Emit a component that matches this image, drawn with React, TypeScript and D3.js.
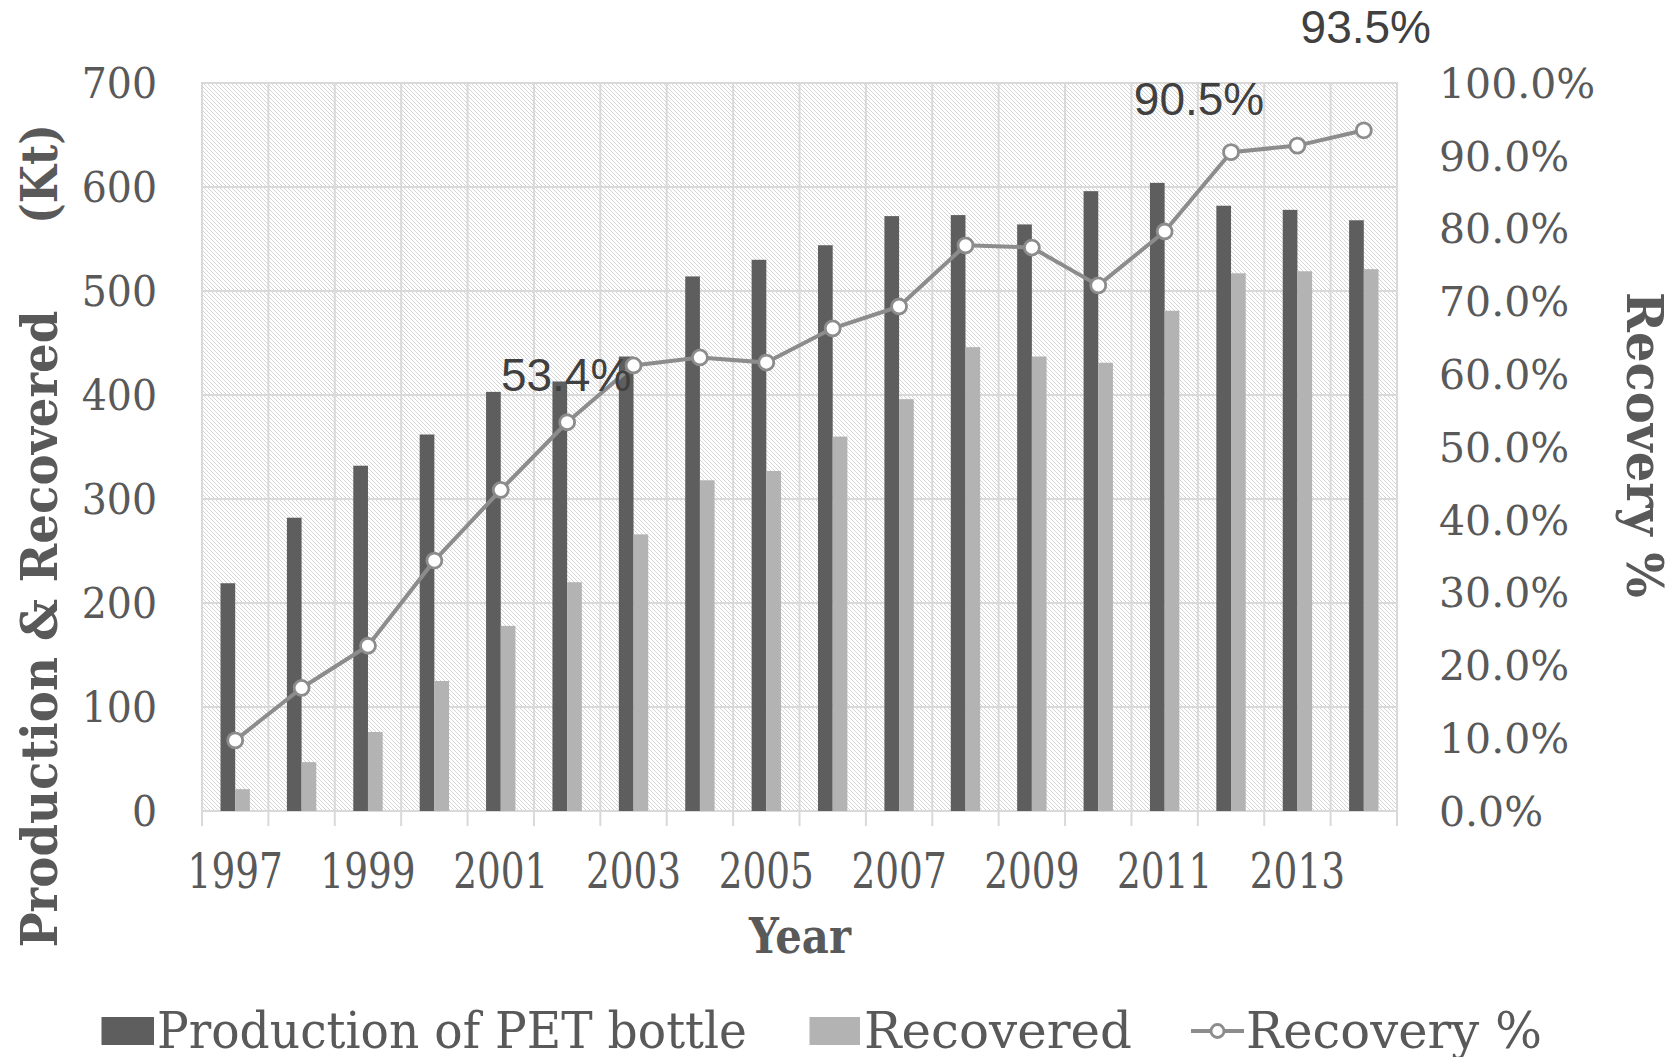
import React from "react";
import * as d3 from "d3";

// values
const years = ["1997", "1998", "1999", "2000", "2001", "2002", "2003", "2004", "2005",
  "2006", "2007", "2008", "2009", "2010", "2011", "2012", "2013", "2014"];
const production = [219, 282, 332, 362, 403, 413, 437, 514, 530, 544, 572, 573, 564, 596, 604, 582, 578, 568];
const recovered = [21, 47, 76, 125, 178, 220, 266, 318, 327, 360, 396, 446, 437, 431, 481, 517, 519, 521];
const recoveryPct = [9.7, 16.9, 22.7, 34.4, 44.1, 53.4, 61.2, 62.3, 61.6, 66.3, 69.3, 77.7, 77.4, 72.2, 79.6, 90.5, 91.4, 93.5];
const leftTicks = [0, 100, 200, 300, 400, 500, 600, 700];
const rightTicks = [0, 10, 20, 30, 40, 50, 60, 70, 80, 90, 100];
const yearLabels = ["1997", "1999", "2001", "2003", "2005", "2007", "2009", "2011", "2013"];
const labelledYears = ["2002", "2012", "2014"];
const seriesNames = ["Production of PET bottle", "Recovered", "Recovery %"];

// label nudges (px) for the three annotated points, like the hand-moved ones in Excel
const labelNudge: Record<string, [number, number]> = {
  "2002": [-1, -31],
  "2012": [-32, -37],
  "2014": [2, -87],
};

const W = 1679, H = 1057;
const plot = { left: 202, right: 1397, top: 83, bottom: 811 };
const txt = "#595959";
const dark = "#5e5e5e";
const light = "#b3b3b3";
const lineCol = "#8c8c8c";
const grid = "#d9d9d9";
const serif = "'DejaVu Serif', serif";
const sans = "'Liberation Sans', Arial, sans-serif";

const App: React.FC = () => {
  const x = d3.scaleBand().domain(years).range([plot.left, plot.right]).padding(0);
  const inner = d3.scaleBand().domain(["prod", "rec"]).range([0, x.bandwidth()])
    .paddingInner(0).paddingOuter(1.26);
  const yL = d3.scaleLinear().domain([0, 700]).range([plot.bottom, plot.top]);
  const yR = d3.scaleLinear().domain([0, 100]).range([plot.bottom, plot.top]);
  const cx = (yr: string) => (x(yr) as number) + x.bandwidth() / 2;

  const line = d3.line<number>()
    .x((_, i) => cx(years[i]))
    .y((d) => yR(d));

  const boundaries = years.map((y) => x(y) as number).concat([plot.right]);

  return (
    <svg width={W} height={H} style={{ position: "absolute", left: 0, top: 0, background: "#fff" }}>
      <defs>
        <pattern id="hatch" width="4" height="4" patternUnits="userSpaceOnUse">
          <rect width="4" height="4" fill="#fff" />
          <path d="M0,0 L4,4 M-1,3 L1,5 M3,-1 L5,1" stroke="#d6d6d6" strokeWidth="1" />
        </pattern>
      </defs>

      {/* plot area */}
      <rect x={plot.left} y={plot.top} width={plot.right - plot.left} height={plot.bottom - plot.top}
        fill="url(#hatch)" stroke={grid} strokeWidth={2} />

      {/* gridlines */}
      {leftTicks.map((t) => (
        <line key={"h" + t} x1={plot.left} x2={plot.right} y1={yL(t)} y2={yL(t)} stroke={grid} strokeWidth={2} />
      ))}
      {boundaries.map((bx, i) => (
        <line key={"v" + i} x1={bx} x2={bx} y1={plot.top} y2={plot.bottom + 15} stroke={grid} strokeWidth={2} />
      ))}

      {/* bars */}
      {years.map((yr, i) => (
        <g key={"b" + yr}>
          <rect x={(x(yr) as number) + (inner("prod") as number)} y={yL(production[i])}
            width={inner.bandwidth()} height={yL(0) - yL(production[i])} fill={dark} />
          <rect x={(x(yr) as number) + (inner("rec") as number)} y={yL(recovered[i])}
            width={inner.bandwidth()} height={yL(0) - yL(recovered[i])} fill={light} />
        </g>
      ))}

      {/* recovery line */}
      <path d={line(recoveryPct) || ""} fill="none" stroke={lineCol} strokeWidth={4} strokeLinejoin="round" />
      {recoveryPct.map((v, i) => (
        <circle key={"m" + i} cx={cx(years[i])} cy={yR(v)} r={7.5} fill="#fff" stroke={lineCol} strokeWidth={2.8} />
      ))}

      {/* data labels */}
      {labelledYears.map((yr) => {
        const i = years.indexOf(yr);
        const [dx, dy] = labelNudge[yr];
        return (
          <text key={"l" + yr} x={cx(yr) + dx} y={yR(recoveryPct[i]) + dy} textAnchor="middle"
            fontFamily={sans} fontSize={46} fill="#404040">
            {recoveryPct[i].toFixed(1) + "%"}
          </text>
        );
      })}

      {/* left axis ticks */}
      {leftTicks.map((t) => (
        <text key={"lt" + t} transform={`translate(157,${yL(t)}) scale(0.94,1)`} dy="0.36em"
          textAnchor="end" fontFamily={serif} fontSize={42} fill={txt}>
          {t}
        </text>
      ))}

      {/* right axis ticks */}
      {rightTicks.map((t) => (
        <text key={"rt" + t} x={1439} y={yR(t)} dy="0.36em"
          fontFamily={serif} fontSize={41} fill={txt}>
          {t.toFixed(1) + "%"}
        </text>
      ))}

      {/* x axis labels */}
      {yearLabels.map((yr) => (
        <text key={"xt" + yr} transform={`translate(${cx(yr)},888) scale(0.78,1)`}
          textAnchor="middle" fontFamily={serif} fontSize={48} fill={txt}>
          {yr}
        </text>
      ))}

      {/* axis titles */}
      <text x={800} y={953} textAnchor="middle" fontFamily={serif} fontWeight="bold" fontSize={48}
        fill={txt} textLength={102} lengthAdjust="spacingAndGlyphs">Year</text>
      <text transform="translate(56.5,629) rotate(-90)" textAnchor="middle" fontFamily={serif}
        fontWeight="bold" fontSize={50} fill={txt} textLength={637} lengthAdjust="spacingAndGlyphs">
        Production &amp; Recovered
      </text>
      <text transform="translate(56.5,174) rotate(-90)" textAnchor="middle" fontFamily={serif}
        fontWeight="bold" fontSize={50} fill={txt} textLength={100} lengthAdjust="spacingAndGlyphs">
        (Kt)
      </text>
      <text transform="translate(1626.5,445) rotate(90)" textAnchor="middle" fontFamily={serif}
        fontWeight="bold" fontSize={50} fill={txt} textLength={306} lengthAdjust="spacingAndGlyphs">
        Recovery %
      </text>

      {/* legend */}
      <rect x={101.5} y={1017} width={52.5} height={28} fill={dark} />
      <text x={157} y={1048} fontFamily={serif} fontSize={50} fill={txt}
        textLength={590} lengthAdjust="spacingAndGlyphs">{seriesNames[0]}</text>
      <rect x={809.5} y={1017} width={50.5} height={28} fill={light} />
      <text x={864} y={1048} fontFamily={serif} fontSize={50} fill={txt}
        textLength={268} lengthAdjust="spacingAndGlyphs">{seriesNames[1]}</text>
      <line x1={1191} x2={1244} y1={1031} y2={1031} stroke={lineCol} strokeWidth={4} />
      <circle cx={1217.5} cy={1031} r={6.5} fill="#fff" stroke={lineCol} strokeWidth={2.8} />
      <text x={1246} y={1048} fontFamily={serif} fontSize={50} fill={txt}
        textLength={296} lengthAdjust="spacingAndGlyphs">{seriesNames[2]}</text>
    </svg>
  );
};

export default App;
